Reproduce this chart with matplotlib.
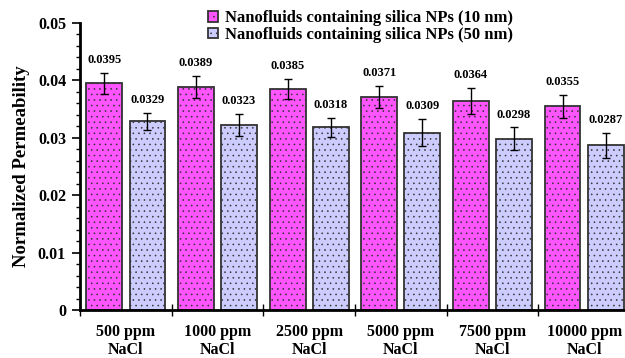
import matplotlib
matplotlib.use("Agg")
import matplotlib.pyplot as plt
import numpy as np

categories = ["500 ppm\nNaCl", "1000 ppm\nNaCl", "2500 ppm\nNaCl",
              "5000 ppm\nNaCl", "7500 ppm\nNaCl", "10000 ppm\nNaCl"]
series_names = ["Nanofluids containing silica NPs (10 nm)",
                "Nanofluids containing silica NPs (50 nm)"]
vals_10nm = [0.0395, 0.0389, 0.0385, 0.0371, 0.0364, 0.0355]
vals_50nm = [0.0329, 0.0323, 0.0318, 0.0309, 0.0298, 0.0287]
err_10nm = [0.0018, 0.0019, 0.0018, 0.0019, 0.0022, 0.0020]
err_50nm = [0.0015, 0.0019, 0.0016, 0.0023, 0.0020, 0.0022]
y_ticks = [0, 0.01, 0.02, 0.03, 0.04, 0.05]
y_tick_labels = ["0", "0.01", "0.02", "0.03", "0.04", "0.05"]

plt.rcParams['font.family'] = ['Liberation Serif', 'DejaVu Serif']
plt.rcParams['hatch.color'] = '#3a3a5a'
plt.rcParams['hatch.linewidth'] = 0.4

fig = plt.figure(figsize=(6.25, 3.58), dpi=100)
ax = fig.add_axes([80/625, 1 - 310/358, 550/625, 287/358])

x = np.arange(len(categories)) + 0.5
w = 0.39
off = 0.235
b1 = ax.bar(x - off, vals_10nm, w, color='#FF55FF', edgecolor='#333333',
            linewidth=1.3, hatch='...', label=series_names[0], zorder=2)
b2 = ax.bar(x + off, vals_50nm, w, color='#CCCCFF', edgecolor='#333333',
            linewidth=1.3, hatch='...', label=series_names[1], zorder=2)
ax.errorbar(x - off, vals_10nm, yerr=err_10nm, fmt='none', ecolor='black',
            elinewidth=1.0, capsize=3, capthick=1.0, zorder=3)
ax.errorbar(x + off, vals_50nm, yerr=err_50nm, fmt='none', ecolor='black',
            elinewidth=1.0, capsize=3, capthick=1.0, zorder=3)

for xi, v, e in zip(x - off, vals_10nm, err_10nm):
    ax.annotate(f"{v:.4f}", (xi, v + e), xytext=(0, 5), textcoords='offset points',
                ha='center', va='bottom', fontsize=9, fontweight='bold')
for xi, v, e in zip(x + off, vals_50nm, err_50nm):
    ax.annotate(f"{v:.4f}", (xi, v + e), xytext=(0, 5), textcoords='offset points',
                ha='center', va='bottom', fontsize=9, fontweight='bold')

ax.set_xlim(0, len(categories))
ax.set_ylim(0, 0.05)
ax.set_yticks(y_ticks)
ax.set_yticklabels(y_tick_labels, fontsize=11.5, fontweight='bold')
ax.set_yticks(np.arange(0, 0.0501, 0.002), minor=True)
ax.tick_params(axis='y', which='major', direction='out', length=6, width=1.2, pad=4)
ax.tick_params(axis='y', which='minor', direction='out', length=3, width=1.0)

ax.set_xticks(x)
ax.set_xticklabels(categories, fontsize=11.5, fontweight='bold', linespacing=1.2)
ax.tick_params(axis='x', which='major', length=0, pad=10)
ax.set_xticks(np.arange(0, len(categories) + 1), minor=True)
ax.tick_params(axis='x', which='minor', direction='inout', length=9, width=1.0)

for s in ['top', 'right']:
    ax.spines[s].set_visible(False)
ax.spines['left'].set_linewidth(2)
ax.spines['bottom'].set_linewidth(2)

ax.set_ylabel("Normalized Permeability", fontsize=13.5, fontweight='bold', labelpad=6)

leg = ax.legend(loc='upper left', bbox_to_anchor=(0.233, 1.045), frameon=False,
                prop={'weight': 'bold', 'size': 12}, handlelength=0.6,
                handleheight=0.6, handletextpad=0.4, labelspacing=0.05,
                borderpad=0, borderaxespad=0)

fig.savefig("out.png", dpi=100)
